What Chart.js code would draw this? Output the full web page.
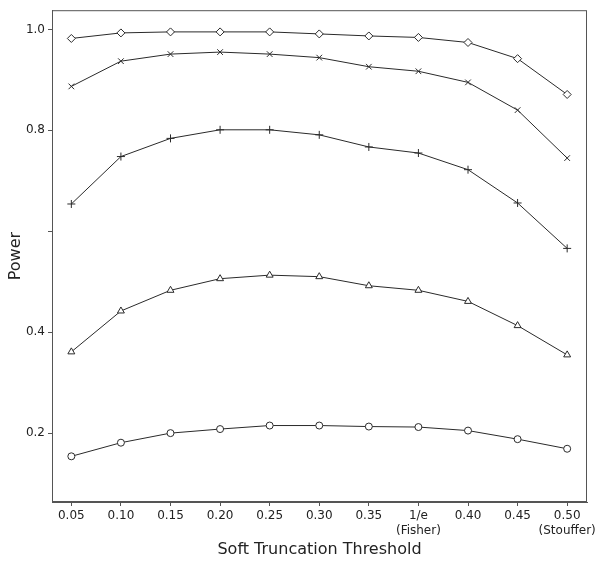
<!DOCTYPE html>
<html>
<head>
<meta charset="utf-8">
<script src="https://cdn.jsdelivr.net/npm/chart.js@4"></script>
<style>
  html, body { margin: 0; padding: 0; background: #fff; }
  #wrap { width: 602px; height: 562px; }
</style>
</head>
<body>
<div id="wrap"><canvas id="power" width="602" height="562"></canvas></div>
<script>
// thresholds along the x axis (shown as tick labels)
const thresholds = ['0.05', '0.10', '0.15', '0.20', '0.25', '0.30', '0.35',
  ['1/e', '(Fisher)'], '0.40', '0.45', ['0.50', '(Stouffer)']];

// power curves, one per marker
const diamondPower  = [0.982, 0.993, 0.995, 0.995, 0.995, 0.991, 0.987, 0.984, 0.974, 0.942, 0.871];
const crossPower    = [0.887, 0.937, 0.951, 0.955, 0.951, 0.944, 0.926, 0.917, 0.895, 0.840, 0.745];
const plusPower     = [0.654, 0.748, 0.784, 0.801, 0.801, 0.791, 0.767, 0.755, 0.722, 0.656, 0.566];
const trianglePower = [0.361, 0.442, 0.483, 0.506, 0.513, 0.510, 0.492, 0.483, 0.461, 0.413, 0.355];
const circlePower   = [0.154, 0.181, 0.200, 0.208, 0.215, 0.215, 0.213, 0.212, 0.205, 0.188, 0.169];

const yTicks = [0.2, 0.4, 0.6, 0.8, 1.0];
const yLabelled = [0.2, 0.4, 0.8, 1.0];

function toPoints(arr) {
  return arr.map((v, i) => ({ x: i, y: v }));
}

function series(name, values, style, radius) {
  return {
    label: name,
    data: toPoints(values),
    borderColor: '#2a2a2a',
    borderWidth: 1,
    pointStyle: style,
    pointRadius: radius,
    pointBorderColor: '#2a2a2a',
    pointBorderWidth: 1,
    pointBackgroundColor: '#fff',
    tension: 0
  };
}

// frame around the plot area
const frame = {
  id: 'frame',
  afterDraw(chart) {
    const { ctx, chartArea: a } = chart;
    ctx.save();
    ctx.strokeStyle = '#555';
    ctx.lineWidth = 1;
    ctx.strokeRect(a.left + 0.5, a.top + 0.5, a.right - a.left - 1, a.bottom - a.top - 1);
    ctx.restore();
  }
};

Chart.defaults.font.family = '"DejaVu Sans", sans-serif';
Chart.defaults.color = '#222';

new Chart(document.getElementById('power').getContext('2d'), {
  type: 'line',
  data: {
    datasets: [
      series('diamond', diamondPower, 'rectRot', 4),
      series('cross', crossPower, 'crossRot', 4),
      series('plus', plusPower, 'cross', 4),
      series('triangle', trianglePower, 'triangle', 4),
      series('circle', circlePower, 'circle', 3.5)
    ]
  },
  options: {
    responsive: false,
    animation: false,
    layout: { padding: { top: 6, right: 15, left: 0, bottom: 0 } },
    plugins: { legend: { display: false }, tooltip: { enabled: false } },
    scales: {
      x: {
        type: 'linear',
        min: -0.39,
        max: 10.4,
        afterBuildTicks(scale) {
          scale.ticks = thresholds.map((t, i) => ({ value: i }));
        },
        afterFit(scale) { scale.height = 60; },
        ticks: {
          font: { size: 12 },
          padding: 3,
          maxRotation: 0,
          autoSkip: false,
          callback: (v) => thresholds[v]
        },
        grid: { drawOnChartArea: false, tickLength: 4, color: '#555' },
        border: { color: '#555' },
        title: {
          display: true,
          text: 'Soft Truncation Threshold',
          font: { size: 16 },
          padding: { top: 0, bottom: 3 }
        }
      },
      y: {
        type: 'linear',
        min: 0.0635,
        max: 1.038,
        afterBuildTicks(scale) {
          scale.ticks = yTicks.map(v => ({ value: v }));
        },
        afterFit(scale) { scale.width = 52; },
        ticks: {
          font: { size: 12 },
          padding: 3,
          callback: (v) => yLabelled.some(t => Math.abs(t - v) < 1e-6) ? v.toFixed(1) : ''
        },
        grid: { drawOnChartArea: false, tickLength: 4, color: '#555' },
        border: { color: '#555' },
        title: {
          display: true,
          text: 'Power',
          font: { size: 16 },
          padding: { top: 6, bottom: 2 }
        }
      }
    }
  },
  plugins: [frame]
});
</script>
</body>
</html>
